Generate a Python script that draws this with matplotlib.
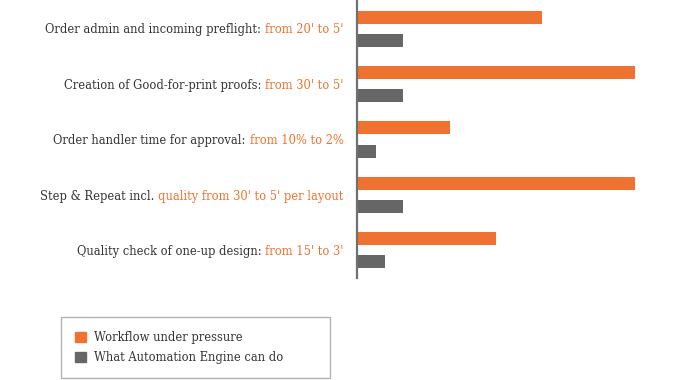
import matplotlib

matplotlib.use("Agg")
import matplotlib.pyplot as plt
import numpy as np
from matplotlib.patches import Patch

# labels are split in a dark part and an orange highlight
label_main = [
    "Order admin and incoming preflight:",
    "Creation of Good-for-print proofs:",
    "Order handler time for approval:",
    "Step & Repeat incl.",
    "Quality check of one-up design:",
]
label_hl = [
    "from 20' to 5'",
    "from 30' to 5'",
    "from 10% to 2%",
    "quality from 30' to 5' per layout",
    "from 15' to 3'",
]
before = [20, 30, 10, 30, 15]
after = [5, 5, 2, 5, 3]
series_names = ["Workflow under pressure", "What Automation Engine can do"]

ORANGE = "#f07230"
GREY = "#666666"
TEXT = "#333333"

plt.rcParams["font.family"] = ["DejaVu Serif"]
fs = 8.3

fig = plt.figure(figsize=(6.8, 3.8), dpi=100)
ax = fig.add_axes([357 / 680, 102 / 380, 278 / 680, 277 / 380])

y = np.arange(len(before))
h = 0.235
off = 0.21
ax.barh(y - off, before, height=h, color=ORANGE)
ax.barh(y + off, after, height=h, color=GREY)

ax.set_xlim(0, 30)
ax.set_ylim(len(before) - 0.5, -0.5)
for s in ["top", "right", "bottom"]:
    ax.spines[s].set_visible(False)
ax.spines["left"].set_color("#707070")
ax.spines["left"].set_linewidth(1.6)
ax.set_xticks([])
ax.set_yticks([])

for i in range(len(y)):
    hl = ax.annotate(label_hl[i], xy=(0, y[i]), xycoords=("axes fraction", "data"),
                     xytext=(-9.5, -0.8), textcoords="offset points",
                     ha="right", va="center", color=ORANGE, fontsize=fs)
    ax.annotate(label_main[i], xy=(0, 0.5), xycoords=hl,
                xytext=(-3, 0), textcoords="offset points",
                ha="right", va="center", color=TEXT, fontsize=fs)

handles = [Patch(color=ORANGE), Patch(color=GREY)]
leg = fig.legend(handles, series_names, loc="lower left",
                 bbox_to_anchor=(61 / 680, 2 / 380, 269 / 680, 63 / 380),
                 mode="expand", fontsize=fs, frameon=True, fancybox=False,
                 handlelength=1.0, handleheight=1.0, handletextpad=0.7,
                 borderpad=1.2, labelspacing=0.65, borderaxespad=0)
leg.get_frame().set_edgecolor("#a0a0a0")
leg.get_frame().set_linewidth(1.0)
for t in leg.get_texts():
    t.set_color(TEXT)

fig.savefig("out.png", dpi=100)
